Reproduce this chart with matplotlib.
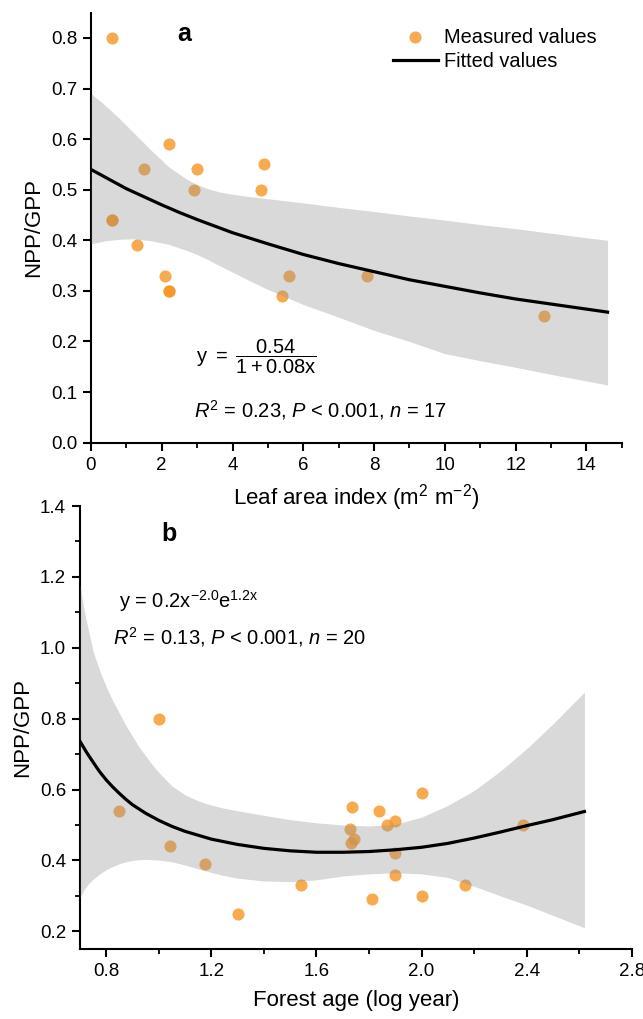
import matplotlib
matplotlib.use("Agg")
import matplotlib.pyplot as plt
from matplotlib.ticker import MultipleLocator, FormatStrFormatter

plt.rcParams["font.family"] = ["Liberation Sans", "DejaVu Sans"]
plt.rcParams["mathtext.fontset"] = "custom"
plt.rcParams["mathtext.rm"] = "Liberation Sans"
plt.rcParams["mathtext.it"] = "Liberation Sans:italic"
plt.rcParams["mathtext.bf"] = "Liberation Sans:bold"

# ---- panel a: leaf area index ----
lai_x = [0.6, 0.6, 0.6, 1.3, 1.5, 2.2, 2.1, 2.2, 2.2, 2.9, 3.0, 4.8, 4.9, 5.4, 5.6, 7.8, 12.8]
lai_y = [0.80, 0.44, 0.44, 0.39, 0.54, 0.59, 0.33, 0.30, 0.30, 0.50, 0.54, 0.50, 0.55, 0.29, 0.33, 0.33, 0.25]

lai_fit_x = [0, 0.5, 1, 1.5, 2, 2.5, 3, 3.5, 4, 5, 6, 7, 8, 9, 10, 11, 12, 13, 14, 14.6]
lai_fit_y = [0.540, 0.521, 0.502, 0.486, 0.470, 0.455, 0.441, 0.428, 0.415, 0.393, 0.372,
             0.354, 0.338, 0.322, 0.309, 0.296, 0.284, 0.274, 0.264, 0.258]

lai_band_x = [0, 0.4, 0.8, 1.2, 1.7, 2.2, 2.7, 3.0, 3.3, 3.6, 4.0, 4.4, 4.9, 6, 7, 8, 9,
              10, 11, 12, 13, 14, 14.6]
lai_band_hi = [0.69, 0.667, 0.641, 0.613, 0.578, 0.545, 0.521, 0.510, 0.502, 0.496, 0.491,
               0.487, 0.483, 0.474, 0.465, 0.457, 0.448, 0.44, 0.431, 0.423, 0.414, 0.405, 0.40]
lai_band_lo = [0.393, 0.399, 0.402, 0.403, 0.399, 0.392, 0.38, 0.372, 0.362, 0.351, 0.337,
               0.323, 0.306, 0.273, 0.248, 0.222, 0.20, 0.176, 0.162, 0.149, 0.135, 0.122, 0.114]

# ---- panel b: forest age ----
age_x = [1.0, 0.847, 1.043, 1.175, 1.30, 1.54, 2.0, 1.734, 1.838, 1.898,
         1.869, 1.727, 1.742, 1.733, 1.898, 1.898, 1.813, 2.0, 2.167, 2.386]
age_y = [0.80, 0.54, 0.44, 0.39, 0.25, 0.33, 0.59, 0.55, 0.54, 0.51,
         0.50, 0.49, 0.46, 0.45, 0.42, 0.36, 0.29, 0.30, 0.33, 0.50]

age_fit_x = [0.70, 0.725, 0.75, 0.775, 0.80, 0.825, 0.85, 0.875, 0.90, 0.95, 1.00, 1.05, 1.10,
             1.20, 1.30, 1.40, 1.50, 1.60, 1.70, 1.80, 1.90, 2.00, 2.10, 2.20, 2.30, 2.40,
             2.50, 2.62]
age_fit_y = [0.736, 0.705, 0.677, 0.650, 0.627, 0.607, 0.589, 0.572, 0.557, 0.533, 0.513, 0.496,
             0.482, 0.460, 0.445, 0.434, 0.427, 0.423, 0.423, 0.425, 0.430, 0.437, 0.448, 0.463,
             0.480, 0.498, 0.515, 0.538]

age_band_x = [0.70, 0.71, 0.72, 0.735, 0.75, 0.775, 0.80, 0.825, 0.85, 0.875, 0.90, 0.925,
              0.95, 0.975, 1.00, 1.05, 1.10, 1.15, 1.20, 1.25, 1.30, 1.40, 1.50, 1.60, 1.70,
              1.80, 1.90, 2.00, 2.10, 2.20, 2.30, 2.40, 2.50, 2.62]
age_band_hi = [1.18, 1.13, 1.09, 1.04, 0.99, 0.935, 0.89, 0.85, 0.815, 0.78, 0.75, 0.72,
               0.695, 0.67, 0.648, 0.61, 0.585, 0.568, 0.556, 0.547, 0.54, 0.527, 0.515, 0.506,
               0.500, 0.497, 0.502, 0.522, 0.555, 0.597, 0.652, 0.715, 0.785, 0.875]
age_band_lo = [0.295, 0.31, 0.322, 0.336, 0.347, 0.362, 0.374, 0.383, 0.391, 0.396, 0.40, 0.402,
               0.403, 0.402, 0.401, 0.396, 0.387, 0.376, 0.366, 0.357, 0.35, 0.342, 0.340, 0.345,
               0.356, 0.362, 0.365, 0.362, 0.352, 0.327, 0.30, 0.274, 0.245, 0.21]

POINT_COLOR = "#F7931E"
BAND_COLOR = "#929292"


def style_axes(ax):
    ax.patch.set_visible(False)
    for side in ("top", "right"):
        ax.spines[side].set_visible(False)
    for side in ("left", "bottom"):
        ax.spines[side].set_linewidth(1.5)
    ax.tick_params(which="major", direction="out", length=6, width=1.5, labelsize=13.5, pad=4)
    ax.tick_params(which="minor", direction="out", length=3.5, width=1.3)


def draw_panel(ax, px, py, fx, fy, bx, blo, bhi):
    pts = ax.scatter(px, py, s=76, color=POINT_COLOR, alpha=0.78, linewidths=0,
                     zorder=2, label="Measured values")
    ax.fill_between(bx, blo, bhi, color=BAND_COLOR, alpha=0.35, linewidth=0, zorder=3)
    line, = ax.plot(fx, fy, color="black", linewidth=2.3, zorder=4, label="Fitted values")
    return pts, line


fig = plt.figure(figsize=(6.43, 10.19), dpi=100)

# panel a
ax1 = fig.add_axes([0.1415, 0.5656, 0.8254, 0.422])
pts, line = draw_panel(ax1, lai_x, lai_y, lai_fit_x, lai_fit_y, lai_band_x, lai_band_lo, lai_band_hi)
ax1.set_xlim(0, 15)
ax1.set_ylim(0, 0.85)
ax1.xaxis.set_major_locator(MultipleLocator(2))
ax1.xaxis.set_minor_locator(MultipleLocator(1))
ax1.yaxis.set_major_locator(MultipleLocator(0.1))
ax1.yaxis.set_major_formatter(FormatStrFormatter("%.1f"))
style_axes(ax1)
ax1.set_xlabel("Leaf area index (m$^2$ m$^{-2}$)", fontsize=16, labelpad=6)
ax1.set_ylabel("NPP/GPP", fontsize=16, labelpad=5)
ax1.text(2.63, 0.808, "a", fontsize=18, fontweight="bold", ha="center", va="center")
ax1.text(2.97, 0.17, r"$\mathrm{y}\ =\ \dfrac{0.54}{1 + 0.08\mathrm{x}}$", fontsize=14.5,
         ha="left", va="center")
ax1.text(2.9, 0.064, r"$R^2$ = 0.23, $P$ < 0.001, $n$ = 17", fontsize=14.5,
         ha="left", va="center")
ax1.legend([pts, line], ["Measured values", "Fitted values"], loc="upper right",
           bbox_to_anchor=(0.975, 0.993), frameon=False, fontsize=14.4, handlelength=2.25,
           handletextpad=0.3, labelspacing=0.25, borderaxespad=0.2)

# panel b
ax2 = fig.add_axes([0.1244, 0.0687, 0.858, 0.4347])
draw_panel(ax2, age_x, age_y, age_fit_x, age_fit_y, age_band_x, age_band_lo, age_band_hi)
ax2.set_xlim(0.7, 2.8)
ax2.set_ylim(0.15, 1.4)
ax2.xaxis.set_major_locator(MultipleLocator(0.4))
ax2.xaxis.set_minor_locator(MultipleLocator(0.2))
ax2.yaxis.set_major_locator(MultipleLocator(0.2))
ax2.yaxis.set_minor_locator(MultipleLocator(0.1))
ax2.xaxis.set_major_formatter(FormatStrFormatter("%.1f"))
ax2.yaxis.set_major_formatter(FormatStrFormatter("%.1f"))
style_axes(ax2)
ax2.set_xlabel("Forest age (log year)", fontsize=16, labelpad=7)
ax2.set_ylabel("NPP/GPP", fontsize=16, labelpad=5)
ax2.text(1.04, 1.322, "b", fontsize=18, fontweight="bold", ha="center", va="center")
ax2.text(0.849, 1.133, r"y = 0.2x$^{\mathrm{-2.0}}$e$^{\mathrm{1.2x}}$", fontsize=14.5,
         ha="left", va="center")
ax2.text(0.824, 1.03, r"$R^2$ = 0.13, $P$ < 0.001, $n$ = 20", fontsize=14.5,
         ha="left", va="center")

fig.savefig("out.png", dpi=100)
